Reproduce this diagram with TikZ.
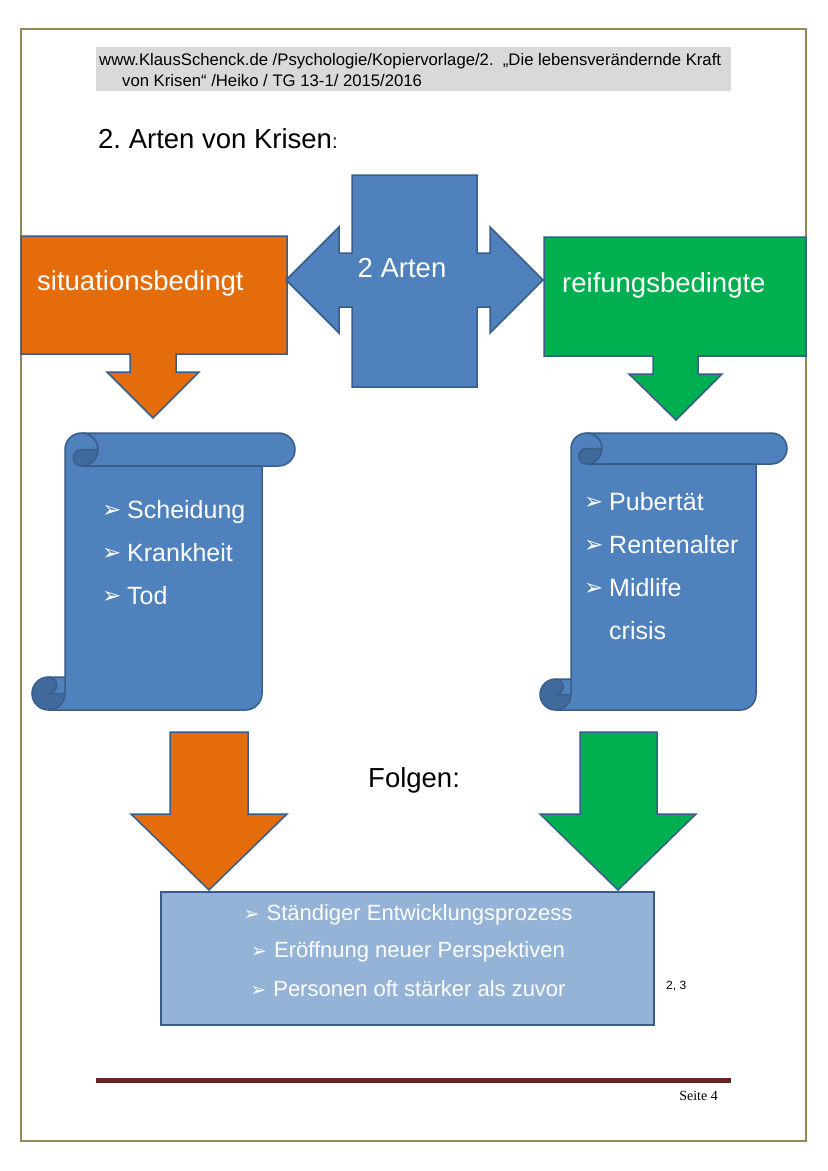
\documentclass[tikz,border=0pt]{standalone}
\usepackage{fontspec}
\setmainfont{Liberation Sans}
\newfontfamily\pfeilfont{DejaVu Sans}
\newfontfamily\fussfont{Liberation Serif}
\frenchspacing
\definecolor{blau}{HTML}{4F81BD}
\definecolor{blaurand}{HTML}{385D8A}
\definecolor{blaudunkel}{HTML}{416A9C}
\definecolor{hellblau}{HTML}{95B3D7}
\definecolor{krisenorange}{HTML}{E46C0A}
\definecolor{krisengruen}{HTML}{00B050}
\definecolor{rahmen}{HTML}{948A54}
\definecolor{kopfgrau}{HTML}{D9D9D9}
\definecolor{fusslinie}{HTML}{632423}
\newcommand{\kopf}{\fontsize{16.7}{20}\selectfont}
\newcommand{\gross}{\fontsize{27.5}{32}\selectfont}
\newcommand{\liste}{\fontsize{25}{30}\selectfont}
\newcommand{\folge}{\fontsize{22}{26}\selectfont}
\newcommand{\bul}{{\pfeilfont\fontsize{23}{23}\selectfont ➢}}
\newcommand{\bulklein}{{\pfeilfont\fontsize{19}{19}\selectfont ➢}}
% Schriftrolle: x, y, Breite, Hoehe, Rollendicke
\newcommand{\rolle}[5]{%
\begin{scope}[shift={(#1,#2)}]
\pgfmathsetmacro\rw{#3}\pgfmathsetmacro\rh{#4}\pgfmathsetmacro\rc{#5}
\pgfmathsetmacro\rcc{#5/2}\pgfmathsetmacro\rcq{#5/4}
\fill[blau] (\rcc,\rh) -- (\rw-\rc-\rcc,\rh) arc (90:0:\rcc) -- (\rw-\rc,\rc) -- (\rw-\rcc,\rc)
  arc (90:-90:\rcc) -- (\rc+\rcc,0) arc (-90:-180:\rcc) -- (\rc,\rh-\rc) -- (\rcc,\rh-\rc)
  arc (-90:-270:\rcc) -- cycle;
\fill[blaudunkel] (2*\rc,\rcc) arc (0:90:\rcc) arc (90:270:\rcq) -- cycle;
\fill[blaudunkel] (\rc,\rh-\rcc) arc (0:270:\rcc) arc (270:450:\rcq) -- cycle;
\draw[blaurand,line width=1.5pt] (\rc,\rh-\rc) -- (\rc,\rcc) arc (180:270:\rcc) -- (\rw-\rcc,0)
  arc (-90:90:\rcc) -- (\rw-\rc,\rc) -- (\rw-\rc,\rh-\rcc) arc (0:90:\rcc) -- (\rcc,\rh)
  arc (90:270:\rcc) -- cycle;
\draw[blaurand,line width=1.5pt] (\rc+\rcc,0) arc (-90:90:\rcc) arc (90:270:\rcq) -- (2*\rc,\rcc);
\draw[blaurand,line width=1.5pt] (\rw-\rc,\rc) -- (\rc+\rcc,\rc);
\draw[blaurand,line width=1.5pt] (\rcc,\rh-\rc) arc (-90:90:\rcq) -- (\rc,\rh-\rcc);
\draw[blaurand,line width=1.5pt] (\rcc,\rh) arc (90:0:\rcc) -- (\rc,\rh-\rc);
\end{scope}}

\begin{document}
\begin{tikzpicture}[x=1pt,y=-1pt,
  rand/.style={draw=blaurand,line width=1.5pt,line join=miter},
  weiss/.style={text=white,inner sep=0pt},
  schwarz/.style={inner sep=0pt}]
\useasboundingbox (0,0) rectangle (828,1171);
\fill[white] (0,0) rectangle (828,1171);
% Seitenrahmen
\draw[rahmen,line width=2pt] (21,29) rectangle (806,1141);
% Kopfzeile
\fill[kopfgrau] (96,47) rectangle (731,91);
\node[schwarz,anchor=base west,font=\kopf] (kopfa) at (99,65)
  {www.KlausSchenck.de /Psychologie/Kopiervorlage/2.\ \ „Die lebensverändernde Kraft};
\node[schwarz,anchor=base west,font=\kopf] (kopfb) at (122,86)
  {von Krisen“ /Heiko / TG 13-1/ 2015/2016};
\node[schwarz,anchor=base west,font=\gross] (titel) at (98,148)
  {2. Arten von Krisen{\fontsize{20}{20}\selectfont:}};

% situationsbedingt
\draw[rand,fill=krisenorange] (21,236) -- (287,236) -- (287,354) -- (176,354) -- (176,372)
  -- (199,372) -- (153,418) -- (107,372) -- (130,372) -- (130,354) -- (21,354) -- cycle;
\node[weiss,anchor=base west,font=\gross] (situativ) at (37,290) {situationsbedingt};

% reifungsbedingte
\draw[rand,fill=krisengruen] (544,237) -- (806,237) -- (806,356) -- (698,356) -- (698,374)
  -- (722,374) -- (676,420) -- (629,374) -- (653,374) -- (653,356) -- (544,356) -- cycle;
\node[weiss,anchor=base west,font=\gross] (reifung) at (562,292) {reifungsbedingte};

% 2 Arten
\draw[rand,fill=blau] (286,280) -- (339,227) -- (339,253) -- (352,253) -- (352,175)
  -- (477,175) -- (477,253) -- (490,253) -- (490,227) -- (543,280) -- (490,333)
  -- (490,307) -- (477,307) -- (477,387) -- (352,387) -- (352,307) -- (339,307)
  -- (339,333) -- cycle;
\node[weiss,anchor=base,font=\gross] (arten) at (402,277) {2 Arten};

% Schriftrollen
\rolle{32}{433}{263}{277}{33}
\rolle{540}{433}{247}{277}{31}
\node[weiss,anchor=base west] (bula) at (102,517) {\bul};
\node[weiss,anchor=base west,font=\liste] (scheidung) at (127,518) {Scheidung};
\node[weiss,anchor=base west] (bulb) at (102,560) {\bul};
\node[weiss,anchor=base west,font=\liste] (krankheit) at (127,561) {Krankheit};
\node[weiss,anchor=base west] (bulc) at (102,603) {\bul};
\node[weiss,anchor=base west,font=\liste] (tod) at (127,604) {Tod};
\node[weiss,anchor=base west] (buld) at (584,509) {\bul};
\node[weiss,anchor=base west,font=\liste] (pubertaet) at (609,510) {Pubertät};
\node[weiss,anchor=base west] (bule) at (584,552) {\bul};
\node[weiss,anchor=base west,font=\liste] (rente) at (609,553) {Rentenalter};
\node[weiss,anchor=base west] (bulf) at (584,595) {\bul};
\node[weiss,anchor=base west,font=\liste] (midlife) at (609,596) {Midlife};
\node[weiss,anchor=base west,font=\liste] (crisis) at (609,639) {crisis};

% Folgen
\node[schwarz,anchor=base west,font=\gross] (folgen) at (368,787) {Folgen:};
\draw[rand,fill=krisenorange] (170,732) -- (248,732) -- (248,814) -- (287,814) -- (209,890)
  -- (131,814) -- (170,814) -- cycle;
\draw[rand,fill=krisengruen] (580,732) -- (657,732) -- (657,814) -- (696,814) -- (618,890)
  -- (540,814) -- (580,814) -- cycle;
\draw[rand,fill=hellblau,line width=2pt] (161,892) rectangle (654,1025);
\node[weiss,anchor=base,font=\folge] (prozess) at (408,920)
  {\bulklein\hspace{7pt}Ständiger Entwicklungsprozess};
\node[weiss,anchor=base,font=\folge] (perspektive) at (408,957)
  {\bulklein\hspace{7pt}Eröffnung neuer Perspektiven};
\node[weiss,anchor=base,font=\folge] (staerker) at (408,996)
  {\bulklein\hspace{7pt}Personen oft stärker als zuvor};
\node[schwarz,anchor=base west,font=\fontsize{12}{12}\selectfont] (quelle) at (666,989) {2, 3};

% Fusszeile
\draw[fusslinie,line width=5pt] (96,1080.5) -- (731,1080.5);
\node[schwarz,anchor=base east,font=\fussfont\fontsize{14}{14}\selectfont] (seite) at (718,1100) {Seite 4};
\end{tikzpicture}
\end{document}
